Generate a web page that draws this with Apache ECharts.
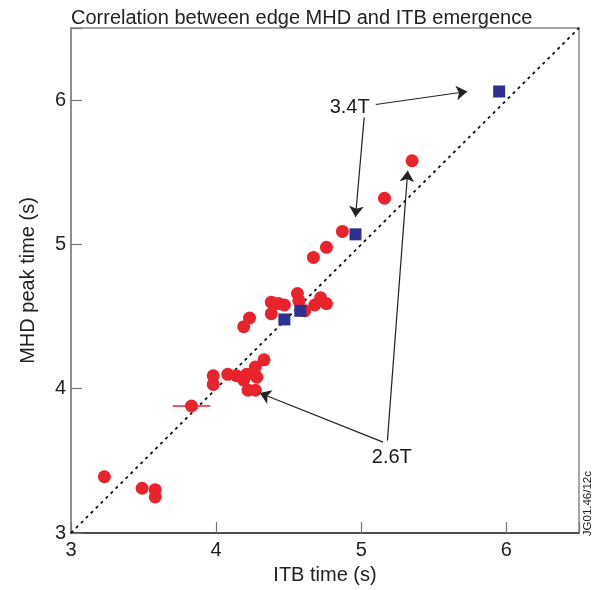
<!DOCTYPE html>
<html><head><meta charset="utf-8">
<script src="https://cdn.jsdelivr.net/npm/echarts@6/dist/echarts.min.js"></script>
<style>html,body{margin:0;padding:0;background:#fff}#c{width:595px;height:590px}</style>
</head><body><div id="c"></div>
<script>
const titleText = 'Correlation between edge MHD and ITB emergence';
const xName = 'ITB time (s)';
const yName = 'MHD peak time (s)';
const itbRed = [3.23,3.49,3.58,3.58,3.83,3.98,3.98,4.08,4.14,4.19,4.21,4.22,4.27,4.27,4.28,4.33,4.19,4.23,4.38,4.38,4.43,4.47,4.56,4.57,4.61,4.68,4.72,4.76,4.67,4.76,4.87,5.16,5.35];
const mhdRed = [3.39,3.31,3.30,3.25,3.88,4.09,4.03,4.10,4.09,4.06,4.10,3.99,3.99,4.15,4.08,4.20,4.43,4.49,4.60,4.52,4.59,4.58,4.66,4.61,4.54,4.58,4.63,4.59,4.91,4.98,5.09,5.32,5.58];
const itbBlue = [4.47,4.58,4.96,5.95];
const mhdBlue = [4.48,4.54,5.07,6.06];
const errBarX = [3.70,3.96];
const errBarY = 3.88;
const diag = [3,6.5];
const labels = [{text:'3.4T', x:4.92, y:5.95},{text:'2.6T', x:5.21, y:3.52}];
const arrows = [
  [[5.10,5.97],[5.73,6.06]],
  [[5.02,5.88],[4.96,5.19]],
  [[5.15,3.63],[4.30,3.97]],
  [[5.18,3.64],[5.32,5.51]]
];
const stamp = 'JG01.46/12c';

const font = 'Liberation Sans, Arial, Helvetica, sans-serif';
const chart = echarts.init(document.getElementById('c'));
const axisCommon = {
  min:3, max:6.5, interval:1,
  axisTick:{show:true, inside:true, length:11, lineStyle:{color:'#777', width:1.2}},
  splitLine:{show:false},
  nameLocation:'middle',
  nameTextStyle:{fontSize:20, color:'#222', fontFamily:font},
  axisLabel:{fontSize:20, color:'#222', fontFamily:font,
    formatter: v => (Number.isInteger(v) ? String(v) : '')}
};
chart.setOption({
  animation:false,
  title:{text:titleText, left:66, top:3, textStyle:{fontSize:20, fontWeight:'normal', color:'#222', fontFamily:font}},
  grid:{left:71, right:16, top:28, bottom:53, show:true, borderColor:'#888', borderWidth:1.5},
  xAxis:Object.assign({}, axisCommon, {name:xName, nameGap:32, axisLabel:Object.assign({}, axisCommon.axisLabel, {margin:7}), axisLine:{show:true, lineStyle:{color:'#333', width:1.5}}}),
  yAxis:Object.assign({}, axisCommon, {name:yName, nameGap:33, axisLabel:Object.assign({}, axisCommon.axisLabel, {margin:5}), axisLine:{show:true, lineStyle:{color:'#888', width:1.5}}}),
  graphic:[{type:'text', left:582, top:471, rotation:Math.PI/2, style:{text:stamp, fontSize:11.5, fill:'#222', fontFamily:font}}],
  series:[
    {type:'line', data:[[diag[0],diag[0]],[diag[1],diag[1]]], showSymbol:false, symbol:'none', lineStyle:{color:'#111', width:1.8, type:[3,4]}, z:1},
    {type:'line', data:[[errBarX[0],errBarY],[errBarX[1],errBarY]], showSymbol:false, symbol:'none', lineStyle:{color:'#e8232b', width:1.5}, z:2},
    {type:'scatter', data:itbRed.map((x,i)=>[x,mhdRed[i]]), symbol:'circle', symbolSize:13, itemStyle:{color:'#e8232b', opacity:1}, z:3},
    {type:'scatter', data:itbBlue.map((x,i)=>[x,mhdBlue[i]]), symbol:'rect', symbolSize:12, itemStyle:{color:'#2e3192', opacity:1}, z:4},
    {type:'lines', coordinateSystem:'cartesian2d', data:arrows.map(a=>({coords:a})), symbol:['none','arrow'], symbolSize:[0,11], lineStyle:{color:'#222', width:1.2, opacity:1, curveness:0}, z:5},
    {type:'scatter', data:labels.map(l=>({value:[l.x,l.y], name:l.text})), symbolSize:1, itemStyle:{color:'rgba(0,0,0,0)', opacity:1}, z:6,
      label:{show:true, position:'inside', formatter:p=>p.name, fontSize:20, color:'#1a1a1a', opacity:1, fontFamily:font}}
  ]
});
</script></body></html>
